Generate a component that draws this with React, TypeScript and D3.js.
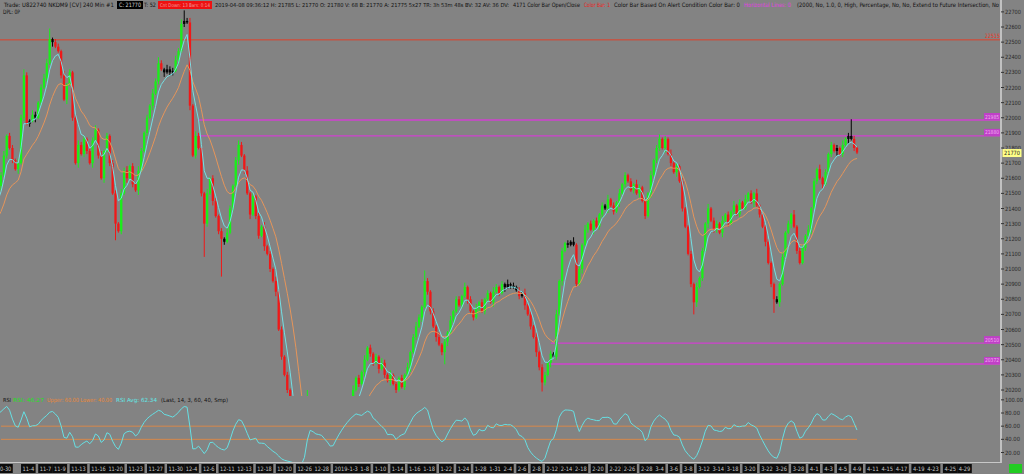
import React from "react";
import * as d3 from "d3";

// ---------- DATA ----------
// warm-up bars before the visible window (tens of points above 20000)
const PRE_BARS = 12;
const FIRST_OPEN_TENS = 115;
// closes, tens of points above 20000 (12 warm-up + 300 visible bars)
const closeTens = [
  118, 112, 120, 126, 122, 130, 135, 128, 140, 146, 150, 155,
  162, 175, 188, 180, 172, 166, 170, 200, 228, 196,
  198, 202, 200, 210, 220, 226, 236, 252, 250, 247,
  244, 228, 212, 222, 230, 200, 170, 182, 176, 186,
  178, 170, 185, 192, 175, 160, 178, 188, 170, 150,
  130, 125, 150, 165, 160, 168, 156, 152, 165, 178,
  190, 200, 208, 216, 224, 236, 232, 230, 232, 230,
  231, 238, 244, 262, 264, 263, 208, 175, 188, 180,
  150, 130, 150, 160, 145, 135, 125, 120, 118, 124,
  140, 155, 172, 182, 175, 165, 150, 136, 148, 135,
  122, 128, 115, 110, 100, 92, 85, 60, 42, 30,
  20, 5, -15, -40, -70, -85, -60, 5, 0, -5,
  -15, -10, -20, -30, -40, -60, -50, -40, -30, -20,
  -10, 0, 10, 20, 28, 24, 32, 40, 48, 44,
  38, 42, 34, 38, 30, 26, 30, 24, 20, 28,
  22, 30, 35, 45, 55, 62, 68, 75, 92, 85,
  72, 62, 55, 50, 45, 52, 58, 66, 72, 80,
  76, 82, 88, 80, 72, 68, 74, 78, 72, 80,
  84, 78, 85, 88, 84, 90, 88, 90, 89, 88,
  86, 82, 84, 76, 70, 62, 55, 45, 35, 25,
  30, 38, 44, 42, 70, 92, 112, 117, 116, 118,
  116, 90, 100, 116, 126, 130, 126, 132, 128, 136,
  142, 140, 146, 142, 138, 144, 150, 156, 162, 158,
  152, 156, 150, 154, 145, 135, 150, 162, 172, 180,
  186, 180, 186, 176, 170, 164, 168, 158, 140, 128,
  110, 90, 78, 88, 94, 112, 130, 140, 132, 126,
  130, 124, 132, 136, 130, 138, 142, 136, 144, 140,
  146, 150, 144, 150, 142, 136, 128, 118, 104, 90,
  80, 78, 90, 108, 124, 130, 136, 128, 112, 104,
  114, 122, 126, 140, 158, 166, 160, 156, 164, 176,
  182, 178, 180, 176, 182, 186, 188, 186, 180, 177,
];
// upper / lower wick lengths per bar, base-36 digits, tens of points
const upWicks =
  "212131213121" +
  "2312213242" + "1321233712" + "2131212322" + "1223131212" + "2132312132" +
  "1213242132" + "2323723132" + "2131221213" + "2123213121" + "2131213121" +
  "2121312f11" + "2131212131" + "2123121312" + "1213213121" + "2131232172" +
  "1213121312" + "2131213121" + "2132121312" + "1213121312" + "2121312121" +
  "3121312121" + "2131213121" + "2132121312" + "3121312121" + "1213121312" +
  "2131213121" + "3121312121" + "1213121312" + "2131213121" + "2121312b21";
const downWicks =
  "121312131213" +
  "3121213121" + "2131212131" + "1213121312" + "2131213121" + "b121312131" +
  "1213121312" + "2131213121" + "2m21312p21" + "1213121312" + "2131213121" +
  "2121312121" + "2131212131" + "1213121312" + "2131213121" + "1213121312" +
  "2131283121" + "1213121312" + "2131213121" + "1213121326" + "2131213121" +
  "1213121312" + "2131213121" + "1213121312" + "2131213121" + "1283121312" +
  "2131213121" + "1213121312" + "9131213121" + "1213121312" + "2131213121";

const priceTicks = [20200, 20300, 20400, 20500, 20600, 20700, 20800, 20900, 21000, 21100, 21200, 21300, 21400, 21500, 21600, 21700, 21800, 21900, 22000, 22100, 22200, 22300, 22400, 22500, 22600, 22700];
const rsiTicks = [20, 40, 60, 80, 100];
const rsiBands = [60, 40];

const levelValues = [22515, 21985, 21880, 20510, 20372];
const levelStartBars = [-12, 69, 69, 192, 191];
const levelColors = ["#e0402a", "#d040d0", "#d040d0", "#d040d0", "#d040d0"];

const dateLabels = ["10-30", "11-4", "11-7", "11-9", "11-13", "11-16", "11-20", "11-23", "11-27", "11-30", "12-4", "12-6", "12-11", "12-13", "12-18", "12-20", "12-26", "12-28", "2019-1-3", "1-8", "1-10", "1-14", "1-16", "1-18", "1-22", "1-24", "1-28", "1-31", "2-4", "2-6", "2-8", "2-12", "2-14", "2-18", "2-20", "2-22", "2-26", "2-28", "3-4", "3-6", "3-8", "3-12", "3-14", "3-18", "3-20", "3-22", "3-26", "3-28", "4-1", "4-3", "4-5", "4-9", "4-11", "4-15", "4-17", "4-19", "4-23", "4-25", "4-29"];
const dateBars = [-2, 7, 13, 18, 24, 31, 37, 44, 51, 58, 64, 70, 76, 82, 89, 96, 103, 109, 116, 125, 130, 136, 142, 147, 153, 159, 165, 170, 175, 180, 185, 190, 195, 200, 206, 212, 217, 223, 228, 233, 238, 243, 248, 253, 259, 265, 270, 276, 282, 287, 292, 297, 302, 307, 312, 318, 323, 329, 334];

const LAST_PRICE = 21770;
const CYAN_PERIOD = 5;
const ORANGE_PERIOD = 14;
const RSI_LEN = 6;
const RSI_AVG = 2;

// ---------- helpers ----------
function ema(vals: number[], n: number) {
  const a = 2 / (n + 1);
  const out: number[] = [];
  vals.forEach((v, i) => out.push(i === 0 ? v : a * v + (1 - a) * out[i - 1]));
  return out;
}
function rsi(vals: number[], n: number) {
  const out: (number | null)[] = vals.map(() => null);
  let ag = 0, al = 0;
  for (let i = 1; i < vals.length; i++) {
    const ch = vals[i] - vals[i - 1];
    const g = Math.max(ch, 0), l = Math.max(-ch, 0);
    if (i <= n) {
      ag += g / n; al += l / n;
      if (i === n) out[i] = al === 0 ? 100 : 100 - 100 / (1 + ag / al);
    } else {
      ag = (ag * (n - 1) + g) / n; al = (al * (n - 1) + l) / n;
      out[i] = al === 0 ? 100 : 100 - 100 / (1 + ag / al);
    }
  }
  return out;
}

const FONT = "'Liberation Sans Narrow', 'DejaVu Sans Condensed', 'Liberation Sans', Arial, sans-serif";

export default function App() {
  const closes = closeTens.map((v) => 20000 + v * 10);
  const up = upWicks.split("").map((c) => parseInt(c, 36) * 10);
  const dn = downWicks.split("").map((c) => parseInt(c, 36) * 10);

  const x = d3.scaleLinear().domain([0, 299]).range([1, 857]);
  const y = d3.scaleLinear().domain([20200, 22600]).range([390, 27]);
  const ry = d3.scaleLinear().domain([20, 80]).range([452.5, 413]);

  const bars = closes.map((c, k) => {
    const o = k === 0 ? 20000 + FIRST_OPEN_TENS * 10 : closes[k - 1];
    const h = Math.max(o, c) + up[k];
    const l = Math.min(o, c) - dn[k];
    const d = c - o;
    const color = Math.abs(d) <= 20 ? "#050505" : d > 0 ? "#19f019" : "#f01818";
    return { i: k - PRE_BARS, o, h, l, c, color };
  });

  const cyan = ema(closes, CYAN_PERIOD);
  const orange = ema(closes, ORANGE_PERIOD);
  const r = rsi(closes, RSI_LEN);
  const rAvg = r.map((v, k) => {
    if (k < RSI_AVG - 1) return null;
    const win = r.slice(k - RSI_AVG + 1, k + 1);
    if (win.some((w) => w === null)) return null;
    return d3.mean(win as number[]) as number;
  });

  const line = d3.line<[number, number]>().x((d) => d[0]).y((d) => d[1]);
  const cyanPath = line(bars.map((b, k) => [x(b.i), y(cyan[k])]));
  const orangePath = line(bars.map((b, k) => [x(b.i), y(orange[k])]));
  const rsiPts: [number, number][] = [];
  bars.forEach((b, k) => { if (rAvg[k] !== null) rsiPts.push([x(b.i), ry(rAvg[k] as number)]); });
  const rsiPath = line(rsiPts);

  const bodyW = 2.3;

  const headerSegs: { t: string; x: number; w: number; c: string; bg?: string; fs?: number }[] = [
    { t: "Trade: U822740  NKDM9 [CV]  240 Min  #1", x: 4, w: 110, c: "#111" },
    { t: "C: 21770", x: 119, w: 22, c: "#d8d8d8", bg: "#000" },
    { t: "T: 52", x: 144, w: 12, c: "#111" },
    { t: "Cnt Down: 13 Bars: 0:14", x: 160, w: 50, c: "#f0a0a0", bg: "#ee1111", fs: 5 },
    { t: "2019-04-08 09:36:12 H: 21785 L: 21770 O: 21780 V: 68 B: 21770 A: 21775 5x27 TR: 3h 53m 48s BV: 32 AV: 36 DV:", x: 215, w: 294, c: "#111", fs: 5.4 },
    { t: "4171 Color Bar Open/Close", x: 513, w: 67, c: "#111" },
    { t: "Color Bar: 1", x: 584, w: 26, c: "#ee2020" },
    { t: "Color Bar Based On Alert Condition  Color Bar: 0", x: 614, w: 126, c: "#111" },
    { t: "Horizontal Lines: 0", x: 744, w: 47, c: "#e040e0" },
    { t: "(2000, No, 1.0, 0, High, Percentage, No, No, Extend to Future Intersection, No", x: 797, w: 202, c: "#111" },
  ];
  const rsiSegs: { t: string; x: number; w: number; c: string }[] = [
    { t: "RSI", x: 3, w: 8, c: "#111" },
    { t: "RSI: 46.27", x: 13, w: 31, c: "#22e022" },
    { t: "Upper: 60.00  Lower: 40.00", x: 47, w: 65, c: "#e8883a" },
    { t: "RSI Avg: 62.34", x: 116, w: 41, c: "#60e8e8" },
    { t: "(Last, 14, 3, 60, 40, Smp)", x: 161, w: 67, c: "#111" },
  ];

  return (
    <svg width={1024} height={474} style={{ position: "absolute", left: 0, top: 0, display: "block" }} fontFamily={FONT}>
      <defs>
        <clipPath id="pc"><rect x={0} y={0} width={1000} height={396} /></clipPath>
        <clipPath id="rc"><rect x={0} y={397} width={1000} height={65} /></clipPath>
      </defs>
      <rect x={0} y={0} width={1024} height={474} fill="#838383" />

      {/* price panel */}
      <g clipPath="url(#pc)">
        {levelValues.map((v, k) => (
          <line key={"lv" + k} x1={x(levelStartBars[k])} x2={1000} y1={y(v)} y2={y(v)} stroke={levelColors[k]} strokeWidth={k === 0 ? 1 : 1.4} />
        ))}
        {bars.map((b, k) => (
          <g key={"b" + k}>
            <line x1={x(b.i)} x2={x(b.i)} y1={y(b.h)} y2={y(b.l)} stroke={b.color} strokeWidth={1} />
            <rect x={x(b.i) - bodyW / 2} y={y(Math.max(b.o, b.c))} width={bodyW} height={Math.max(1, Math.abs(y(b.o) - y(b.c)))} fill={b.color} />
          </g>
        ))}
        <path d={orangePath || ""} fill="none" stroke="#e6955a" strokeWidth={1} />
        <path d={cyanPath || ""} fill="none" stroke="#74dfe4" strokeWidth={1} />
      </g>

      {/* RSI panel */}
      <g clipPath="url(#rc)">
        {rsiBands.map((v) => (
          <line key={"rb" + v} x1={x(0)} x2={x(299)} y1={ry(v)} y2={ry(v)} stroke="#d8884a" strokeWidth={1} />
        ))}
        <path d={rsiPath || ""} fill="none" stroke="#66e0e4" strokeWidth={1} />
      </g>

      {/* right axis */}
      <line x1={1001} x2={1001} y1={0} y2={463} stroke="#d6d6d6" strokeWidth={1.5} />
      <line x1={0} x2={1001} y1={462.5} y2={462.5} stroke="#c8c8c8" strokeWidth={1} />
      {priceTicks.map((p) => (
        <g key={"pt" + p}>
          <line x1={1001} x2={1004} y1={y(p)} y2={y(p)} stroke="#333" />
          <text x={1005} y={y(p) + 2} fontSize={5.8} fill="#2a2a2a" textLength={16} lengthAdjust="spacingAndGlyphs">{p}</text>
        </g>
      ))}
      {rsiTicks.map((v) => (
        <g key={"rt" + v}>
          <line x1={1001} x2={1004} y1={ry(v)} y2={ry(v)} stroke="#333" />
          <text x={1005} y={ry(v) + 2} fontSize={5.8} fill="#2a2a2a" textLength={v === 100 ? 18 : 15} lengthAdjust="spacingAndGlyphs">{v.toFixed(2)}</text>
        </g>
      ))}
      {/* level labels */}
      {levelValues.map((v, k) => (
        k === 0 ? (
          <text key={"ll" + k} x={985} y={y(v) - 2} fontSize={6} fill="#ee3322" textLength={15} lengthAdjust="spacingAndGlyphs">{v}</text>
        ) : (
          <g key={"ll" + k}>
            <rect x={984} y={y(v) - 7} width={16} height={7} fill="#c040c8" />
            <text x={985} y={y(v) - 1.5} fontSize={5.5} fill="#f2b0f2" textLength={14} lengthAdjust="spacingAndGlyphs">{v}</text>
          </g>
        )
      ))}
      {/* last price */}
      <rect x={1002.5} y={y(LAST_PRICE) - 3.5} width={19} height={8} fill="#ffff88" />
      <text x={1004} y={y(LAST_PRICE) + 2.8} fontSize={5.8} fill="#222" textLength={16} lengthAdjust="spacingAndGlyphs">{LAST_PRICE}</text>

      {/* header */}
      {headerSegs.map((s, k) => (
        <g key={"h" + k}>
          {s.bg && <rect x={s.x - 2} y={1} width={s.w + 4} height={8} fill={s.bg} />}
          <text x={s.x} y={7.3} fontSize={s.fs || 6} fill={s.c} textLength={s.w} lengthAdjust="spacingAndGlyphs">{s.t}</text>
        </g>
      ))}
      <text x={3} y={14} fontSize={6} fill="#111" textLength={17} lengthAdjust="spacingAndGlyphs">DPL: 0P</text>
      {rsiSegs.map((s, k) => (
        <text key={"r" + k} x={s.x} y={401.5} fontSize={5.6} fill={s.c} textLength={s.w} lengthAdjust="spacingAndGlyphs">{s.t}</text>
      ))}

      {/* date axis */}
      {dateLabels.map((t, k) => {
        const w = t.length * 2.9 + 3;
        const x0 = x(dateBars[k]);
        return (
          <g key={"d" + k}>
            <rect x={x0} y={464} width={w} height={9} fill="#0c0c0c" />
            <text x={x0 + 1.5} y={471} fontSize={6} fill="#c8c8c8" textLength={w - 3} lengthAdjust="spacingAndGlyphs">{t}</text>
          </g>
        );
      })}
      <rect x={1009} y={464} width={13} height={9} fill="#22cc22" />
    </svg>
  );
}
